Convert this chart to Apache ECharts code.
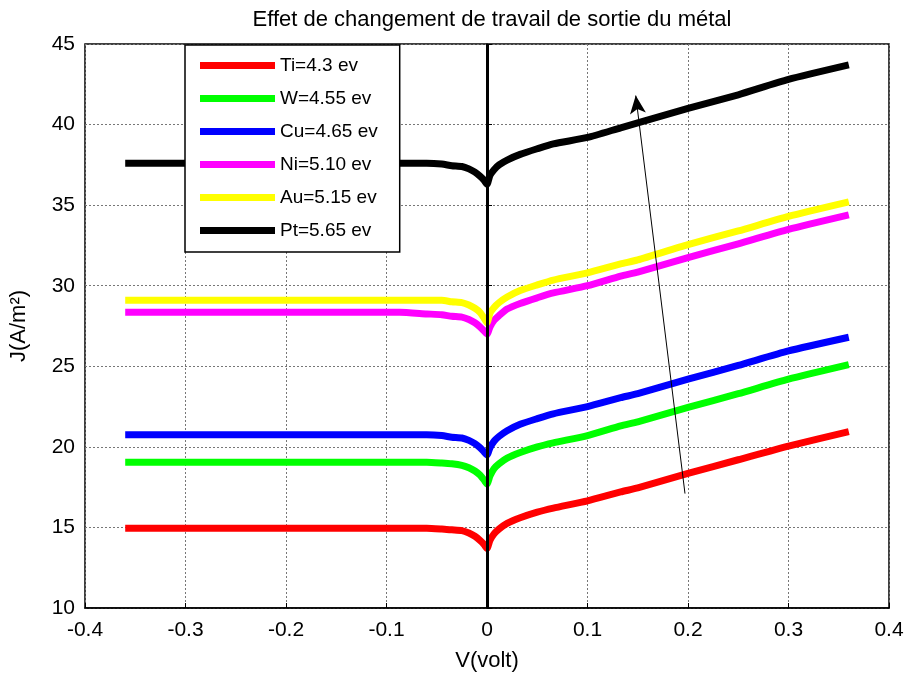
<!DOCTYPE html>
<html><head><meta charset="utf-8">
<script src="https://cdn.jsdelivr.net/npm/echarts@6/dist/echarts.min.js"></script>
<style>html,body{margin:0;padding:0;background:#fff}#c{width:911px;height:679px}</style>
</head><body><div id="c"></div>
<script>
const V = [-0.36,-0.3,-0.2,-0.1,-0.087,-0.06,-0.045,-0.035,-0.025,-0.018,-0.012,-0.007,-0.003,0,0.003,0.007,0.012,0.02,0.033,0.05,0.066,0.1,0.133,0.15,0.2,0.25,0.3,0.36];
const Ti = [14.95,14.95,14.95,14.95,14.95,14.95,14.9,14.85,14.8,14.65,14.45,14.2,13.95,13.7,14.2,14.6,14.9,15.25,15.6,15.95,16.2,16.65,17.2,17.45,18.35,19.2,20.05,20.95];
const W = [19.05,19.05,19.05,19.05,19.05,19.05,19.0,18.95,18.85,18.7,18.5,18.25,17.95,17.7,18.2,18.65,18.95,19.3,19.65,20.0,20.25,20.7,21.3,21.55,22.45,23.3,24.2,25.1];
const Cu = [20.75,20.75,20.75,20.75,20.75,20.75,20.7,20.6,20.55,20.4,20.2,19.95,19.7,19.5,19.95,20.35,20.65,21.0,21.4,21.75,22.05,22.5,23.05,23.3,24.2,25.05,25.95,26.8];
const Ni = [28.35,28.35,28.35,28.35,28.35,28.25,28.2,28.1,28.05,27.9,27.7,27.45,27.2,27.0,27.45,27.85,28.15,28.55,28.9,29.25,29.55,30.0,30.6,30.85,31.75,32.6,33.5,34.4];
const Au = [29.1,29.1,29.1,29.1,29.1,29.1,29.1,29.0,28.95,28.8,28.6,28.35,28.0,27.7,28.3,28.65,28.95,29.3,29.7,30.05,30.35,30.8,31.35,31.6,32.55,33.4,34.3,35.2];
const Pt = [37.6,37.6,37.6,37.6,37.6,37.6,37.55,37.45,37.4,37.25,37.05,36.8,36.55,36.3,36.85,37.2,37.5,37.8,38.15,38.5,38.8,39.2,39.8,40.1,41.0,41.85,42.8,43.7];
const names = ['Ti=4.3 ev','W=4.55 ev','Cu=4.65 ev','Ni=5.10 ev','Au=5.15 ev','Pt=5.65 ev'];
const colors = ['#ff0000','#00ff00','#0000ff','#ff00ff','#ffff00','#000000'];
const values = [Ti,W,Cu,Ni,Au,Pt];
const arrowFrom = [0.197,17.1];
const arrowTo = [0.148,41.8];
const xTicks = {min:-0.4,max:0.4,step:0.1};
const yTicks = {min:10,max:45,step:5};

const font = 'Liberation Sans, Arial, sans-serif';
const series = values.map((arr,i)=>({
  name:names[i], type:'line', data:V.map((v,k)=>[v,arr[k]]),
  showSymbol:false, symbol:'none', smooth:0.2,
  lineStyle:{color:colors[i],width:7,cap:'butt',join:'round'},
  itemStyle:{color:colors[i]}, z:3, silent:true
}));
series.push({
  type:'line', data:[], silent:true, z:5,
  markLine:{silent:true, symbol:['none','none'], label:{show:false},
    lineStyle:{color:'#000',width:3,type:'solid'},
    data:[[{coord:[0,yTicks.min]},{coord:[0,yTicks.max]}]]}
});
series.push({
  type:'line', data:[], silent:true, z:6,
  markLine:{silent:true, symbol:['none','arrow'], symbolSize:[12,18], label:{show:false},
    lineStyle:{color:'#000',width:1,type:'solid'},
    data:[[{coord:arrowFrom},{coord:arrowTo}]]}
});
const chart = echarts.init(document.getElementById('c'),null,{renderer:'canvas'});
chart.setOption({
  animation:false,
  backgroundColor:'#fff',
  title:{text:'Effet de changement de travail de sortie du métal',left:487,textAlign:'center',top:4,
    textStyle:{fontFamily:font,fontSize:22,fontWeight:'normal',color:'#000'}},
  grid:{left:85,right:22,top:44,bottom:71,show:true,borderColor:'#000',borderWidth:1.5,containLabel:false},
  legend:{orient:'vertical',left:185,top:45,itemWidth:75,itemHeight:7,itemGap:14,icon:'rect',
    padding:[11,22,12,15],backgroundColor:'#fff',borderColor:'#000',borderWidth:1.5,
    textStyle:{fontFamily:font,fontSize:19,color:'#000',padding:[0,0,0,0]},
    data:names, selectedMode:false, z:10},
  xAxis:{type:'value',min:xTicks.min,max:xTicks.max,interval:xTicks.step,
    name:'V(volt)',nameLocation:'middle',nameGap:42,
    nameTextStyle:{fontFamily:font,fontSize:22,color:'#000'},
    axisLine:{show:true,onZero:false,lineStyle:{color:'#000',width:1.5}},
    axisTick:{show:true,inside:true,length:5,lineStyle:{color:'#000'}},
    axisLabel:{fontFamily:font,fontSize:21,color:'#000',margin:12,
      formatter:v=>{const r=Math.round(v*10)/10;return r===0?'0':r.toFixed(1);}},
    splitLine:{show:true,lineStyle:{color:'#777',type:[2,2],width:1}}},
  yAxis:{type:'value',min:yTicks.min,max:yTicks.max,interval:yTicks.step,
    name:'J(A/m²)',nameLocation:'middle',nameGap:55,nameRotate:90,
    nameTextStyle:{fontFamily:font,fontSize:22,color:'#000'},
    axisLine:{show:true,lineStyle:{color:'#000',width:1.5}},
    axisTick:{show:true,inside:true,length:5,lineStyle:{color:'#000'}},
    axisLabel:{fontFamily:font,fontSize:21,color:'#000',margin:10},
    splitLine:{show:true,lineStyle:{color:'#777',type:[2,2],width:1}}},
  series:series
});
</script></body></html>
